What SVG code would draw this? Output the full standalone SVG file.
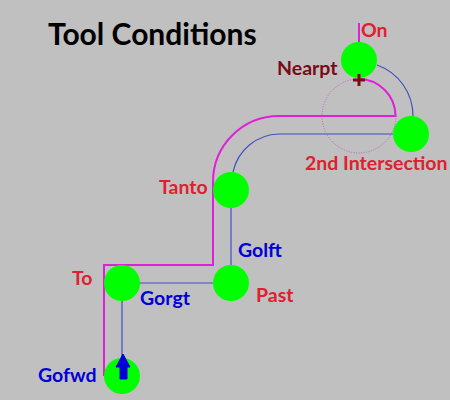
<svg xmlns="http://www.w3.org/2000/svg" width="450" height="400" viewBox="0 0 450 400">
<style>
text{font-family:"Lato","Open Sans","Liberation Sans",sans-serif;font-weight:700;font-size:19.500px}
.node{fill:#00ff00}
.pink{fill:none;stroke:#e020d8;stroke-width:2}
.blue{fill:none;stroke:#4050c0;stroke-width:1.2}
.red{fill:#e02030}.bl{fill:#0000d8}.dark{fill:#7a0a18}
</style>
<rect width="450" height="400" fill="#c0c0c0"/>
<circle cx="359" cy="116" r="37" fill="none" stroke="#c060c0" stroke-width="1" stroke-dasharray="1 1.5"/>
<g id="connectors">
<path class="pink" d="M359 23V42M359 79A37 37 0 0 1 395.500 116H279A66 66 0 0 0 213 182V265H104V376"/>
<path class="blue" d="M122 376V283H231V190M233 172A48 48 0 0 1 279 134H411M377 65A54 54 0 0 1 413 116"/>
</g>
<g id="node-on"><circle class="node" cx="359" cy="60" r="18"/><text class="red" x="361" y="37">On</text></g>
<g id="node-nearpt"><text class="dark" x="277" y="75">Nearpt</text><path d="M359 74V86M353 80H365" stroke="#7a0a18" stroke-width="3" fill="none"/></g>
<g id="node-intersection"><circle class="node" cx="411" cy="134" r="18"/><text class="red" x="305" y="170">2nd Intersection</text></g>
<g id="node-tanto"><circle class="node" cx="231" cy="190" r="18"/><text class="red" x="159" y="194">Tanto</text></g>
<g id="node-past"><circle class="node" cx="231" cy="283" r="18"/><text class="red" x="256" y="302">Past</text><text class="bl" x="238" y="257">Golft</text></g>
<g id="node-to"><circle class="node" cx="122" cy="283" r="18"/><text class="red" x="72" y="285">To</text><text class="bl" x="140" y="305">Gorgt</text></g>
<g id="node-gofwd"><circle class="node" cx="122" cy="376" r="18"/><text class="bl" x="38" y="382">Gofwd</text><path d="M123 354L116 367H120V379H127V367H130Z" fill="#0000d8" stroke="#0000d8" stroke-width="1"/></g>
<text x="48" y="45" style="font-size:30px;fill:#000">Tool Conditions</text>
</svg>
